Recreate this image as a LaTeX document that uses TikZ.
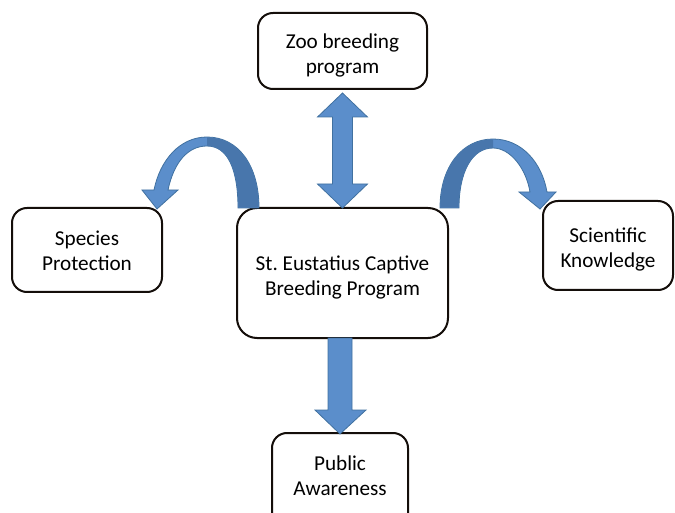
\documentclass[tikz,border=0pt]{standalone}
\usepackage{fontspec}
\setmainfont{Carlito}
\usetikzlibrary{calc}
\definecolor{boxline}{RGB}{20,14,10}
\definecolor{arrowfill}{RGB}{91,142,203}
\definecolor{arrowdark}{RGB}{72,118,172}
\definecolor{arrowline}{RGB}{65,113,160}
\tikzset{
  box/.style={draw=boxline, line width=2pt, rounded corners=15pt, fill=white,
    inner sep=0pt, outer sep=0pt},
  boxtext/.style={align=center, inner sep=0pt, font=\fontsize{21.2}{25}\selectfont},
  blockarrow/.style={fill=arrowfill, draw=arrowline, line width=0.8pt, line join=miter},
  darkpart/.style={fill=arrowdark, draw=none},
}
\begin{document}
\begin{tikzpicture}[x=1pt,y=-1pt]
\useasboundingbox (0,0) rectangle (675,513);
% boxes
\node[box, minimum width=169pt, minimum height=76pt] (zoo) at (342.5,51) {};
\node[boxtext] (zoo-t) at ($(zoo.center)+(0,4)$) {Zoo breeding\\program};
\node[box, minimum width=150pt, minimum height=84pt] (species) at (87,250) {};
\node[boxtext] (species-t) at ($(species.center)+(0,1)$) {Species\\Protection};
\node[box, minimum width=211pt, minimum height=130pt, rounded corners=20pt] (main) at (342.5,273) {};
\node[boxtext] (main-t) at ($(main.center)+(0,4.5)$) {St.\ Eustatius Captive\\Breeding Program};
\node[box, minimum width=130pt, minimum height=89pt] (sci) at (608,245.5) {};
\node[boxtext] (sci-t) at ($(sci.center)+(0,4)$) {Scientific\\Knowledge};
\node[box, minimum width=136pt, minimum height=96pt] (pub) at (340,481) {};
\node[boxtext] (pub-t) at (340,476) {Public\\Awareness};

% double arrow between zoo and main
\coordinate (dtop) at ($(zoo.south)+(0,4)$);
\coordinate (dbot) at (main.north);
\draw[blockarrow] (dtop) -- ++(25,24) -- ++(-15,0) -- ($(dbot)+(10,-24)$) -- ++(15,0)
  -- (dbot) -- ++(-25,-24) -- ++(15,0) -- ($(dtop)+(-10,24)$) -- ++(-15,0) -- cycle;

% down arrow from main to public
\coordinate (mtop) at ($(main.south)+(-2.5,0)$);
\coordinate (ptip) at ($(pub.north)+(0,1)$);
\draw[blockarrow] ($(mtop)+(-12,0)$) -- ++(24,0) -- ($(ptip)+(12,-24)$) -- ++(14,0)
  -- (ptip) -- ++(-25,-24) -- ++(13,0) -- cycle;

% curved arrow to species protection
\begin{scope}[shift={(main.north west)}]
\draw[blockarrow] (22,0) .. controls (22,-43) and (1,-71) .. (-30,-71)
  .. controls (-57,-71) and (-77,-48) .. (-83,-18) -- (-95,-18) -- (-80,1) -- (-59,-18) -- (-69,-18)
  .. controls (-63,-46) and (-49,-62) .. (-30,-62)
  .. controls (-9,-62) and (1,-38) .. (1,0) -- cycle;
\fill[darkpart] (21.6,-0.4) .. controls (21.6,-43) and (1,-70.6) .. (-30,-70.6) -- (-30,-62)
  .. controls (-9,-62) and (1,-38) .. (1.4,-0.4) -- cycle;
\end{scope}

% curved arrow to scientific knowledge
\begin{scope}[shift={(main.north east)}]
\draw[blockarrow] (-8,0) .. controls (-8,-41) and (14,-69) .. (45,-69)
  .. controls (74,-69) and (94,-45) .. (99,-16) -- (108,-16) -- (92,1) -- (71,-16) -- (82,-16)
  .. controls (78,-40) and (62,-60) .. (45,-60)
  .. controls (24,-60) and (11,-36) .. (11,0) -- cycle;
\fill[darkpart] (-7.6,-0.4) .. controls (-7.6,-41) and (14,-68.6) .. (45,-68.6) -- (45,-60)
  .. controls (24,-60) and (11,-36) .. (10.6,-0.4) -- cycle;
\end{scope}
\end{tikzpicture}
\end{document}
